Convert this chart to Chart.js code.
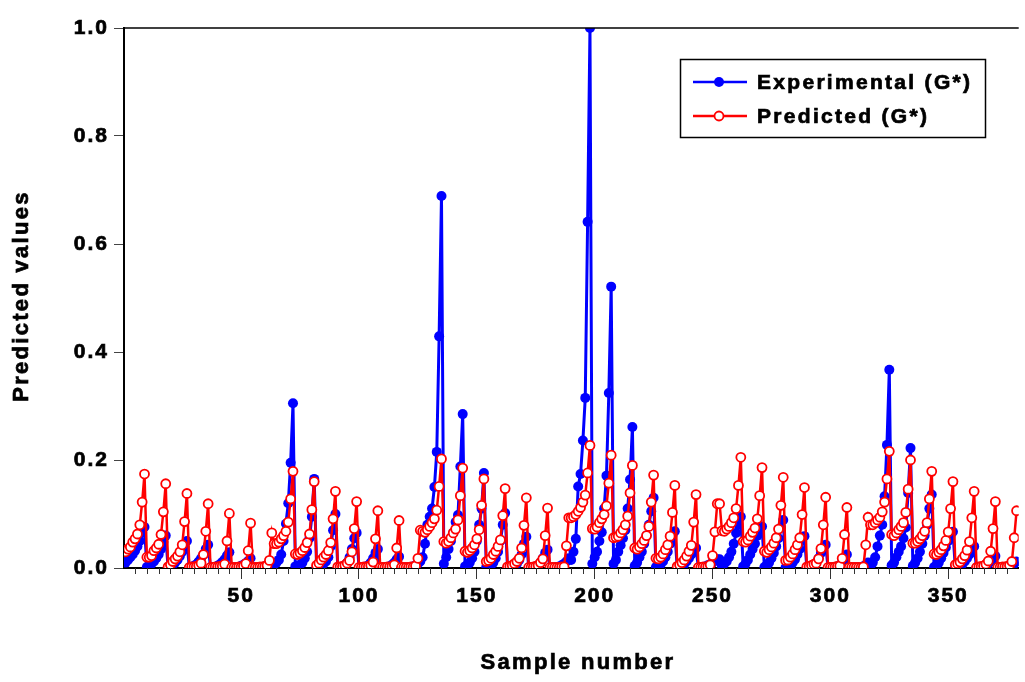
<!DOCTYPE html>
<html>
<head>
<meta charset="utf-8">
<script src="https://cdn.jsdelivr.net/npm/chart.js@4.4.1/dist/chart.umd.min.js"></script>
<style>
  html, body { margin: 0; padding: 0; background: #ffffff; overflow: hidden; }
  #wrap { width: 1025px; height: 682px; }
</style>
</head>
<body>
<div id="wrap"><canvas id="c" width="1025" height="682"></canvas></div>
<script>
// ---- data, sample numbers start at 1 ----
const experimental = [
  0.010, 0.015, 0.020, 0.025, 0.032, 0.040, 0.050, 0.065, 0.076,
  0.002, 0.004, 0.008, 0.012, 0.018, 0.025, 0.035, 0.048, 0.060,
  0.001, 0.003, 0.006, 0.010, 0.015, 0.022, 0.030, 0.040, 0.050,
  0.001, 0.002, 0.004, 0.007, 0.012, 0.018, 0.025, 0.035, 0.043,
  0.001, 0.001, 0.002, 0.004, 0.007, 0.011, 0.016, 0.023, 0.029,
  0.001, 0.001, 0.001, 0.002, 0.004, 0.006, 0.009, 0.013, 0.018,
  0.001, 0.001, 0.001, 0.001, 0.002, 0.003, 0.005, 0.007, 0.010,
  0.006, 0.010, 0.015, 0.025, 0.050, 0.082, 0.120, 0.195, 0.305,
  0.003, 0.004, 0.006, 0.010, 0.018, 0.030, 0.055, 0.095, 0.165,
  0.002, 0.003, 0.005, 0.008, 0.012, 0.020, 0.040, 0.070, 0.100,
  0.001, 0.002, 0.003, 0.005, 0.010, 0.020, 0.035, 0.055, 0.065,
  0.001, 0.001, 0.002, 0.003, 0.005, 0.010, 0.018, 0.028, 0.035,
  0.001, 0.001, 0.001, 0.002, 0.003, 0.006, 0.010, 0.016, 0.021,
  0.001, 0.001, 0.001, 0.001, 0.002, 0.003, 0.005, 0.008, 0.012,
  0.020, 0.045, 0.080, 0.095, 0.110, 0.150, 0.215, 0.429, 0.689,
  0.008, 0.020, 0.035, 0.050, 0.065, 0.085, 0.098, 0.188, 0.285,
  0.003, 0.006, 0.010, 0.018, 0.030, 0.050, 0.080, 0.110, 0.176,
  0.002, 0.003, 0.005, 0.010, 0.018, 0.030, 0.050, 0.080, 0.102,
  0.001, 0.002, 0.003, 0.005, 0.008, 0.015, 0.025, 0.045, 0.058,
  0.001, 0.001, 0.002, 0.003, 0.005, 0.010, 0.018, 0.028, 0.034,
  0.001, 0.001, 0.001, 0.002, 0.003, 0.005, 0.008, 0.012, 0.018,
  0.015, 0.030, 0.054, 0.151, 0.174, 0.236, 0.315, 0.641, 1.000,
  0.008, 0.020, 0.030, 0.050, 0.066, 0.110, 0.171, 0.324, 0.521,
  0.008, 0.015, 0.030, 0.042, 0.055, 0.070, 0.110, 0.164, 0.261,
  0.004, 0.010, 0.020, 0.030, 0.045, 0.060, 0.080, 0.105, 0.130,
  0.002, 0.004, 0.007, 0.012, 0.020, 0.030, 0.045, 0.060, 0.068,
  0.001, 0.002, 0.004, 0.007, 0.012, 0.018, 0.025, 0.032, 0.037,
  0.001, 0.001, 0.002, 0.003, 0.005, 0.007, 0.010, 0.013, 0.016,
  0.016, 0.004, 0.008, 0.012, 0.020, 0.030, 0.045, 0.065, 0.080, 0.095,
  0.003, 0.008, 0.015, 0.025, 0.035, 0.045, 0.060, 0.070, 0.077,
  0.002, 0.005, 0.010, 0.018, 0.028, 0.040, 0.055, 0.075, 0.089,
  0.001, 0.003, 0.005, 0.010, 0.016, 0.025, 0.035, 0.050, 0.059,
  0.001, 0.002, 0.003, 0.006, 0.010, 0.018, 0.028, 0.038, 0.043,
  0.001, 0.001, 0.001, 0.002, 0.003, 0.005, 0.010, 0.018, 0.025,
  0.001, 0.001, 0.001, 0.001, 0.001, 0.001, 0.003, 0.006, 0.010,
  0.003, 0.010, 0.020, 0.040, 0.060, 0.080, 0.133, 0.228, 0.367,
  0.005, 0.010, 0.020, 0.030, 0.040, 0.055, 0.075, 0.139, 0.222,
  0.004, 0.010, 0.018, 0.030, 0.045, 0.060, 0.080, 0.110, 0.136,
  0.002, 0.005, 0.010, 0.018, 0.028, 0.038, 0.050, 0.060, 0.067,
  0.001, 0.002, 0.004, 0.007, 0.012, 0.018, 0.025, 0.033, 0.040,
  0.001, 0.001, 0.002, 0.003, 0.005, 0.008, 0.012, 0.018, 0.022,
  0.001, 0.001, 0.001, 0.002, 0.002, 0.003, 0.005, 0.008, 0.012
];

const predicted = [
  0.030, 0.035, 0.039, 0.048, 0.054, 0.063, 0.080, 0.122, 0.174,
  0.020, 0.020, 0.023, 0.032, 0.037, 0.044, 0.062, 0.104, 0.156,
  0.002, 0.006, 0.012, 0.017, 0.022, 0.030, 0.043, 0.086, 0.138,
  0.001, 0.002, 0.002, 0.003, 0.005, 0.009, 0.025, 0.068, 0.119,
  0.001, 0.001, 0.002, 0.002, 0.003, 0.004, 0.007, 0.050, 0.101,
  0.001, 0.001, 0.001, 0.002, 0.002, 0.004, 0.008, 0.032, 0.083,
  0.001, 0.001, 0.001, 0.002, 0.002, 0.003, 0.005, 0.014, 0.065,
  0.045, 0.045, 0.048, 0.054, 0.060, 0.068, 0.085, 0.128, 0.179,
  0.026, 0.025, 0.028, 0.032, 0.038, 0.047, 0.063, 0.108, 0.160,
  0.005, 0.009, 0.015, 0.020, 0.025, 0.032, 0.047, 0.091, 0.142,
  0.002, 0.002, 0.003, 0.005, 0.009, 0.014, 0.030, 0.073, 0.123,
  0.001, 0.001, 0.002, 0.002, 0.003, 0.005, 0.011, 0.054, 0.106,
  0.001, 0.001, 0.001, 0.002, 0.002, 0.003, 0.006, 0.037, 0.088,
  0.001, 0.001, 0.001, 0.001, 0.002, 0.002, 0.004, 0.018, 0.070,
  0.068, 0.066, 0.071, 0.077, 0.084, 0.091, 0.107, 0.151, 0.202,
  0.049, 0.046, 0.049, 0.056, 0.065, 0.072, 0.089, 0.134, 0.185,
  0.031, 0.029, 0.032, 0.037, 0.043, 0.054, 0.071, 0.116, 0.165,
  0.012, 0.014, 0.018, 0.025, 0.031, 0.040, 0.052, 0.097, 0.147,
  0.002, 0.003, 0.005, 0.008, 0.012, 0.018, 0.037, 0.079, 0.130,
  0.001, 0.001, 0.002, 0.003, 0.005, 0.010, 0.017, 0.060, 0.111,
  0.001, 0.001, 0.001, 0.001, 0.001, 0.002, 0.002, 0.041, 0.093,
  0.093, 0.095, 0.099, 0.105, 0.112, 0.122, 0.135, 0.176, 0.227,
  0.073, 0.072, 0.076, 0.084, 0.091, 0.099, 0.115, 0.157, 0.209,
  0.056, 0.057, 0.059, 0.065, 0.071, 0.080, 0.096, 0.139, 0.190,
  0.037, 0.035, 0.039, 0.045, 0.051, 0.060, 0.077, 0.122, 0.172,
  0.018, 0.017, 0.020, 0.026, 0.034, 0.043, 0.059, 0.103, 0.153,
  0.003, 0.006, 0.010, 0.015, 0.022, 0.031, 0.042, 0.085, 0.136,
  0.001, 0.001, 0.002, 0.002, 0.003, 0.006, 0.023, 0.067, 0.119,
  0.119, 0.069, 0.068, 0.072, 0.077, 0.084, 0.093, 0.110, 0.153, 0.205,
  0.049, 0.048, 0.052, 0.059, 0.066, 0.074, 0.091, 0.134, 0.186,
  0.031, 0.029, 0.034, 0.039, 0.046, 0.056, 0.072, 0.116, 0.168,
  0.014, 0.015, 0.020, 0.026, 0.034, 0.043, 0.056, 0.099, 0.149,
  0.002, 0.003, 0.005, 0.007, 0.009, 0.017, 0.036, 0.080, 0.131,
  0.001, 0.001, 0.001, 0.002, 0.003, 0.004, 0.018, 0.062, 0.112,
  0.001, 0.001, 0.001, 0.001, 0.001, 0.001, 0.002, 0.043, 0.094,
  0.080, 0.080, 0.084, 0.089, 0.094, 0.104, 0.122, 0.165, 0.216,
  0.062, 0.060, 0.065, 0.071, 0.077, 0.084, 0.103, 0.146, 0.200,
  0.046, 0.046, 0.049, 0.054, 0.060, 0.068, 0.084, 0.128, 0.179,
  0.026, 0.025, 0.029, 0.034, 0.041, 0.051, 0.067, 0.110, 0.160,
  0.006, 0.008, 0.011, 0.017, 0.023, 0.033, 0.049, 0.093, 0.142,
  0.001, 0.002, 0.003, 0.004, 0.007, 0.013, 0.031, 0.073, 0.123,
  0.001, 0.001, 0.002, 0.002, 0.003, 0.005, 0.012, 0.056, 0.106
];

const seriesNames = ['Experimental (G*)', 'Predicted (G*)'];
const yTickValues = [0.0, 0.2, 0.4, 0.6, 0.8, 1.0];
const xMajorTicks = [50, 100, 150, 200, 250, 300, 350];
const xTitle = 'Sample number';
const yTitle = 'Predicted values';

const sampleNumbers = experimental.map((_, i) => i + 1);
const toPoints = arr => arr.map((v, i) => ({ x: sampleNumbers[i], y: v }));

const FONT = "'Liberation Sans', Arial, sans-serif";

function boldText(ctx, txt, x, y) {
  ctx.fillText(txt, x, y);
  ctx.strokeText(txt, x, y);
}

const decorPlugin = {
  id: 'decor',
  beforeDraw(chart) {
    chart.ctx.letterSpacing = '2px';
  },
  beforeDatasetsDraw(chart) {
    chart.ctx.letterSpacing = '0px';
  },
  afterDraw(chart) {
    const ctx = chart.ctx;
    const area = chart.chartArea;
    const xs = chart.scales.x;
    ctx.save();
    // top frame line
    ctx.strokeStyle = '#000';
    ctx.lineWidth = 1.5;
    ctx.beginPath();
    ctx.moveTo(area.left, area.top);
    ctx.lineTo(area.right, area.top);
    ctx.stroke();
    // minor x ticks every 5
    ctx.strokeStyle = '#333';
    ctx.lineWidth = 1;
    for (let v = 5; v <= xs.max; v += 5) {
      if (v % 50 === 0) continue;
      const px = Math.round(xs.getPixelForValue(v)) + 0.5;
      ctx.beginPath();
      ctx.moveTo(px, area.bottom);
      ctx.lineTo(px, area.bottom + 6);
      ctx.stroke();
    }
    // axis titles
    ctx.fillStyle = '#000';
    ctx.strokeStyle = '#000';
    ctx.lineWidth = 0.7;
    ctx.font = 'bold 22px ' + FONT;
    ctx.letterSpacing = '2.3px';
    ctx.textAlign = 'center';
    ctx.textBaseline = 'middle';
    boldText(ctx, xTitle, 578, 663);
    ctx.save();
    ctx.translate(22, 296);
    ctx.rotate(-Math.PI / 2);
    boldText(ctx, yTitle, 0, 0);
    ctx.restore();
    // legend
    ctx.letterSpacing = '2.3px';
    ctx.fillStyle = '#fff';
    ctx.fillRect(681, 60, 304, 77);
    ctx.strokeStyle = '#000';
    ctx.lineWidth = 1.5;
    ctx.strokeRect(680.5, 59.5, 305, 78);
    const ds = chart.data.datasets;
    const rows = [82, 116];
    ds.forEach((d, i) => {
      const y = rows[i];
      ctx.strokeStyle = d.borderColor;
      ctx.lineWidth = 2.5;
      ctx.beginPath();
      ctx.moveTo(693, y);
      ctx.lineTo(747, y);
      ctx.stroke();
      ctx.beginPath();
      ctx.arc(719, y, i === 0 ? 5 : 4.5, 0, Math.PI * 2);
      ctx.fillStyle = d.pointBackgroundColor;
      ctx.fill();
      if (i === 1) {
        ctx.lineWidth = 1.8;
        ctx.strokeStyle = d.pointBorderColor;
        ctx.stroke();
      }
      ctx.fillStyle = '#000';
      ctx.strokeStyle = '#000';
      ctx.lineWidth = 0.7;
      ctx.font = 'bold 21px ' + FONT;
      ctx.textAlign = 'left';
      boldText(ctx, seriesNames[i], 757, y + 1);
    });
    ctx.restore();
    ctx.letterSpacing = '0px';
  }
};

new Chart(document.getElementById('c'), {
  type: 'line',
  data: {
    datasets: [
      {
        label: seriesNames[0],
        data: toPoints(experimental),
        borderColor: '#0000ff',
        backgroundColor: '#0000ff',
        pointBackgroundColor: '#0000ff',
        pointBorderColor: '#0000ff',
        pointRadius: 5,
        pointBorderWidth: 0,
        borderWidth: 3,
        tension: 0,
        order: 2
      },
      {
        label: seriesNames[1],
        data: toPoints(predicted),
        borderColor: '#ff0000',
        backgroundColor: '#ffffff',
        pointBackgroundColor: '#ffffff',
        pointBorderColor: '#ff0000',
        pointRadius: 4.5,
        pointBorderWidth: 1.8,
        borderWidth: 2.5,
        tension: 0,
        order: 1
      }
    ]
  },
  options: {
    responsive: false,
    animation: false,
    devicePixelRatio: 1,
    layout: { padding: { top: 28, left: 0, right: 0, bottom: 0 } },
    plugins: { legend: { display: false }, tooltip: { enabled: false } },
    scales: {
      x: {
        type: 'linear',
        min: 0.3,
        max: 379.9,
        afterBuildTicks(scale) {
          const t = [];
          for (let v = 5; v <= 379; v += 5) t.push({ value: v });
          scale.ticks = t;
        },
        afterFit(scale) { scale.height = 114; },
        ticks: {
          autoSkip: false,
          maxRotation: 0,
          padding: 5,
          color: '#000',
          textStrokeColor: '#000',
          textStrokeWidth: 0.7,
          font: { family: FONT, size: 21, weight: 'bold' },
          callback: v => (xMajorTicks.includes(v) ? String(v) : '')
        },
        grid: {
          drawOnChartArea: false,
          tickLength: 11,
          tickWidth: 1,
          color: c => (c.tick && c.tick.value % 50 === 0 ? '#333' : 'rgba(0,0,0,0)')
        },
        border: { display: true, color: '#000', width: 2 }
      },
      y: {
        min: 0,
        max: 1,
        afterBuildTicks(scale) {
          scale.ticks = yTickValues.map(v => ({ value: v }));
        },
        afterFit(scale) { scale.width = 124; },
        ticks: {
          padding: 5,
          color: '#000',
          textStrokeColor: '#000',
          textStrokeWidth: 0.7,
          font: { family: FONT, size: 21, weight: 'bold' },
          callback: v => Number(v).toFixed(1)
        },
        grid: {
          drawOnChartArea: false,
          tickLength: 10,
          tickWidth: 1,
          color: '#444'
        },
        border: { display: true, color: '#000', width: 2 }
      }
    }
  },
  plugins: [decorPlugin]
});
</script>
</body>
</html>
